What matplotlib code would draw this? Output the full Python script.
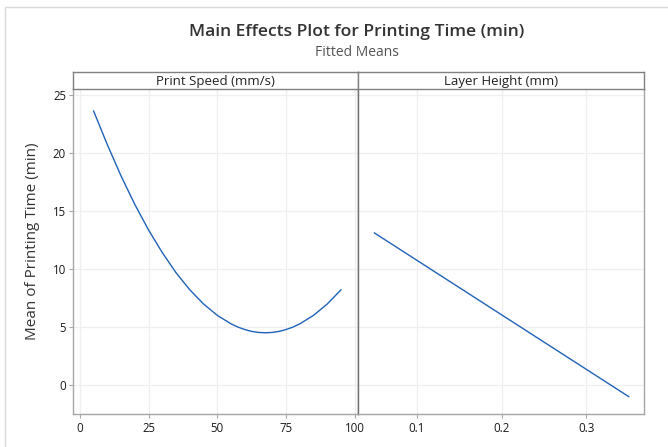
import matplotlib
matplotlib.use("Agg")
from matplotlib import pyplot as plt
from matplotlib.patches import Rectangle

# values
speed = [5, 10, 15, 20, 25, 30, 35, 40, 45, 50, 55, 57.5, 60, 62.5, 65, 67.5,
         70, 72.5, 75, 77.5, 80, 85, 90, 95]
speed_mean = [23.6, 20.7, 18.0, 15.55, 13.35, 11.4, 9.67, 8.2, 6.98, 6.0, 5.27, 4.99,
              4.78, 4.62, 4.53, 4.5, 4.53, 4.62, 4.78, 4.99, 5.27, 6.0, 6.98, 8.2]
layer = [0.05, 0.35]
layer_mean = [13.1, -1.0]

speed_ticks = [0, 25, 50, 75, 100]
layer_ticks = [0.1, 0.2, 0.3]
y_ticks = [0, 5, 10, 15, 20, 25]

plt.rcParams["font.family"] = ["Open Sans", "DejaVu Sans"]

W, H = 668, 447
fig = plt.figure(figsize=(W / 100, H / 100), dpi=100)

# light frame round the graph
fig.patches.append(Rectangle((5 / W, -0.1), 1.2, 1 - 7 / H + 0.1, transform=fig.transFigure,
                             fill=False, edgecolor="#d9d9d9", linewidth=1.0))

fig.text(357 / W, 1 - 32 / H, "Main Effects Plot for Printing Time (min)", ha="center", va="center",
         fontsize=12.6, fontweight="semibold", color="#333333")
fig.text(357 / W, 1 - 52 / H, "Fitted Means", ha="center", va="center", fontsize=10, color="#555555")

bottom = 1 - 413.7 / H
height = (413.7 - 89) / H
ax1 = fig.add_axes([73 / W, bottom, (358.3 - 73) / W, height])
ax2 = fig.add_axes([358.3 / W, bottom, (644 - 358.3) / W, height])

line_col = "#1f62b8"
grid_col = "#efefef"
spine_col = "#a6a6a6"

ax1.plot(speed, speed_mean, color=line_col, linewidth=1.0)
ax2.plot(layer, layer_mean, color=line_col, linewidth=1.0)

ax1.set_xlim(-2.5, 101.3)
ax2.set_xlim(0.031, 0.368)
for ax in (ax1, ax2):
    ax.set_ylim(-2.47, 25.5)
    ax.set_yticks(y_ticks)
    ax.grid(True, color=grid_col, linewidth=0.9)
    ax.set_axisbelow(True)
    for s in ax.spines.values():
        s.set_color(spine_col)
        s.set_linewidth(1.0)
    ax.spines["top"].set_visible(False)
    ax.tick_params(axis="both", length=3, width=0.8, color=spine_col, labelsize=8.3, labelcolor="#1a1a1a", pad=3)

ax1.set_xticks(speed_ticks)
ax2.set_xticks(layer_ticks)
ax2.set_xticklabels(["0.1", "0.2", "0.3"])
ax1.spines["right"].set_color("#707070")
ax2.spines["left"].set_color("#707070")
ax2.tick_params(axis="y", left=False, labelleft=False)
ax1.tick_params(axis="y", pad=2)

ax1.set_ylabel("Mean of Printing Time (min)", fontsize=11, color="#333333")
ax1.yaxis.set_label_coords(-0.117, 0.53)

# panel header strips
strip_b = 1 - 89 / H
strip_h = 17 / H
for x0, x1, label in [(73, 358.3, "Print Speed (mm/s)"), (358.3, 644, "Layer Height (mm)")]:
    sax = fig.add_axes([x0 / W, strip_b, (x1 - x0) / W, strip_h])
    sax.set_xticks([])
    sax.set_yticks([])
    for s in sax.spines.values():
        s.set_color("#808080")
        s.set_linewidth(1.0)
    sax.text(0.5, 0.45, label, ha="center", va="center", fontsize=9.5, color="#222222",
             transform=sax.transAxes)

fig.savefig("out.png", dpi=100)
